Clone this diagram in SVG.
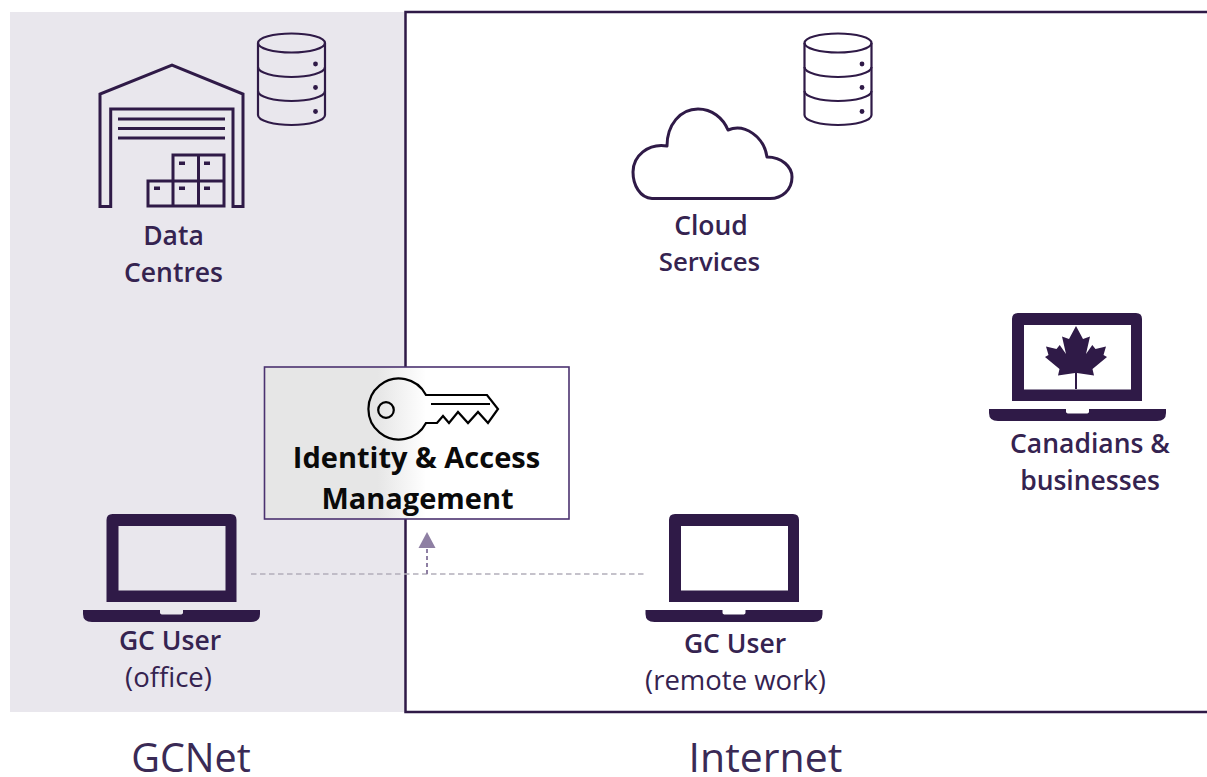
<svg xmlns="http://www.w3.org/2000/svg" width="1207" height="777" viewBox="0 0 1207 777">
<style>
.ic{fill:none;stroke:#2f1a47;stroke-width:2.2}
.ic3{fill:none;stroke:#2f1a47;stroke-width:3}
.solid{fill:#2f1a47}
.lbl{font-family:"Open Sans",sans-serif;font-size:26.500px;font-weight:600;fill:#352350;text-anchor:middle}
.sub{font-family:"Open Sans",sans-serif;font-size:27.500px;font-weight:400;fill:#352350;text-anchor:middle}
.zone{font-family:"Open Sans",sans-serif;font-weight:400;fill:#3a2a55;text-anchor:middle}
.iam{font-family:"Open Sans",sans-serif;font-size:29px;font-weight:700;fill:#0a0a0a;text-anchor:middle}
</style>
<defs>
<linearGradient id="g" gradientUnits="userSpaceOnUse" x1="265" y1="0" x2="569" y2="0">
<stop offset="0" stop-color="#e6e6e6"/><stop offset="0.37" stop-color="#e6e6e6"/><stop offset="0.53" stop-color="#ffffff"/><stop offset="1" stop-color="#ffffff"/>
</linearGradient>
<g id="db">
<ellipse cx="0" cy="0" rx="33.5" ry="9.5" class="ic"/>
<path class="ic" d="M-33.5,0V72C-33.5,78 -17,82 0,82S33.5,78 33.5,72V0"/>
<path class="ic" d="M-33.5,24C-33.5,30 -17,34 0,34S33.5,30 33.5,24M-33.5,48C-33.5,54 -17,58 0,58S33.5,54 33.5,48"/>
<circle cx="24" cy="21" r="2.4" class="solid"/><circle cx="24" cy="44.5" r="2.4" class="solid"/><circle cx="24" cy="68.5" r="2.4" class="solid"/>
</g>
<path id="base" class="solid" d="M0,0H77V2.500Q77,4.500 80,4.500H97Q100,4.500 100,2.500V0H177V4Q177,12 168,12H9Q0,12 0,4Z"/>
<path id="lap" class="solid" fill-rule="evenodd" d="M0,88V6Q0,0 6,0H124Q130,0 130,6V88ZM12,12V76.500H119V12Z"/>
</defs>

<g id="zones">
<rect x="10" y="12" width="395" height="700" fill="#e9e7ed"/>
<path d="M1207,12H405.500V712H1207" fill="none" stroke="#2f1a47" stroke-width="2.500"/>
</g>

<g id="connectors">
<path d="M251,574H646" fill="none" stroke="#b3afba" stroke-width="1.600" stroke-dasharray="5.500 3.500"/>
<path d="M427,574V547" fill="none" stroke="#8e7fa3" stroke-width="2" stroke-dasharray="4 3"/>
<path d="M427,532L435.500,548H418.500Z" fill="#8e7fa3"/>
</g>

<g id="data-centres">
<path class="ic3" d="M110.700,206.500H100V94L172,65L243,94V206.500H233V109H110.700Z" stroke-linejoin="miter"/>
<path class="ic3" d="M118,119H225M118,128.500H225M118,138H225"/>
<path class="ic3" d="M173,181V155H224V206H148V181H224M198.500,155V206M173,181V206"/>
<g class="solid"><rect x="179" y="161.500" width="6" height="3.500"/><rect x="204" y="161.500" width="6" height="3.500"/><rect x="154" y="186.500" width="6" height="3.500"/><rect x="179" y="186.500" width="6" height="3.500"/><rect x="204" y="186.500" width="6" height="3.500"/></g>
<use href="#db" x="291.500" y="43"/>
<text class="lbl" x="173.500" y="245">Data</text>
<text class="lbl" x="173.500" y="282">Centres</text>
</g>

<g id="cloud-services">
<path class="ic3" d="M652,198.500C640,198 633,185 633,172C633,156 648,143 667,146C667,125 680,109 698,109C712,109 723,118 728,130C745,123 764,137 767,157C782,157 792,167 792,177C792,190 782,198.500 770,198.500Z" stroke-linejoin="round"/>
<use href="#db" x="838" y="43"/>
<text class="lbl" x="711" y="235">Cloud</text>
<text class="lbl" x="709.500" y="271" style="font-size:25.800px">Services</text>
</g>

<g id="canadians">
<use href="#lap" x="1012" y="313"/>
<use href="#base" x="989" y="409"/>
<path class="solid" d="M1076,326L1083,339L1090,336.500L1086,354L1092.300,345L1095.500,349L1106,346.500L1103.500,355L1107,357L1092.500,369L1094,375.500L1077,373V389H1075V373L1058,375.500L1059.500,369L1045,357L1048.500,355L1046,346.500L1056.500,349L1059.700,345L1066,354L1062,336.500L1069,339Z"/>
<text class="lbl" x="1090" y="453">Canadians &amp;</text>
<text class="lbl" x="1090" y="490">businesses</text>
</g>

<g id="gc-office">
<use href="#lap" x="106.500" y="514"/>
<use href="#base" x="83" y="610"/>
<text class="lbl" x="170" y="650">GC User</text>
<text class="sub" x="168.500" y="687">(office)</text>
</g>

<g id="gc-remote">
<use href="#lap" x="669" y="514"/>
<use href="#base" x="645.500" y="610"/>
<text class="lbl" x="735" y="653">GC User</text>
<text class="sub" x="735.500" y="690">(remote work)</text>
</g>

<g id="iam">
<rect x="264.500" y="367" width="304.500" height="152" fill="url(#g)" stroke="#4b3270" stroke-width="1.600"/>
<path d="M426,395A30.500,30.500 0 1 0 426,423H437L443,416L449,423L458,412L468,423L478,412L488,423L498,409L487,395Z" fill="none" stroke="#000" stroke-width="2.200" stroke-linejoin="miter"/>
<path d="M431,404H490" fill="none" stroke="#000" stroke-width="2.200"/>
<circle cx="386" cy="410" r="7.800" fill="none" stroke="#000" stroke-width="2.200"/>
<text class="iam" x="416.500" y="468">Identity &amp; Access</text>
<text class="iam" x="417.500" y="509">Management</text>
</g>

<g id="zone-labels">
<text class="zone" font-size="39.500" x="191" y="772">GCNet</text>
<text class="zone" font-size="41" x="765.500" y="772">Internet</text>
</g>
</svg>
